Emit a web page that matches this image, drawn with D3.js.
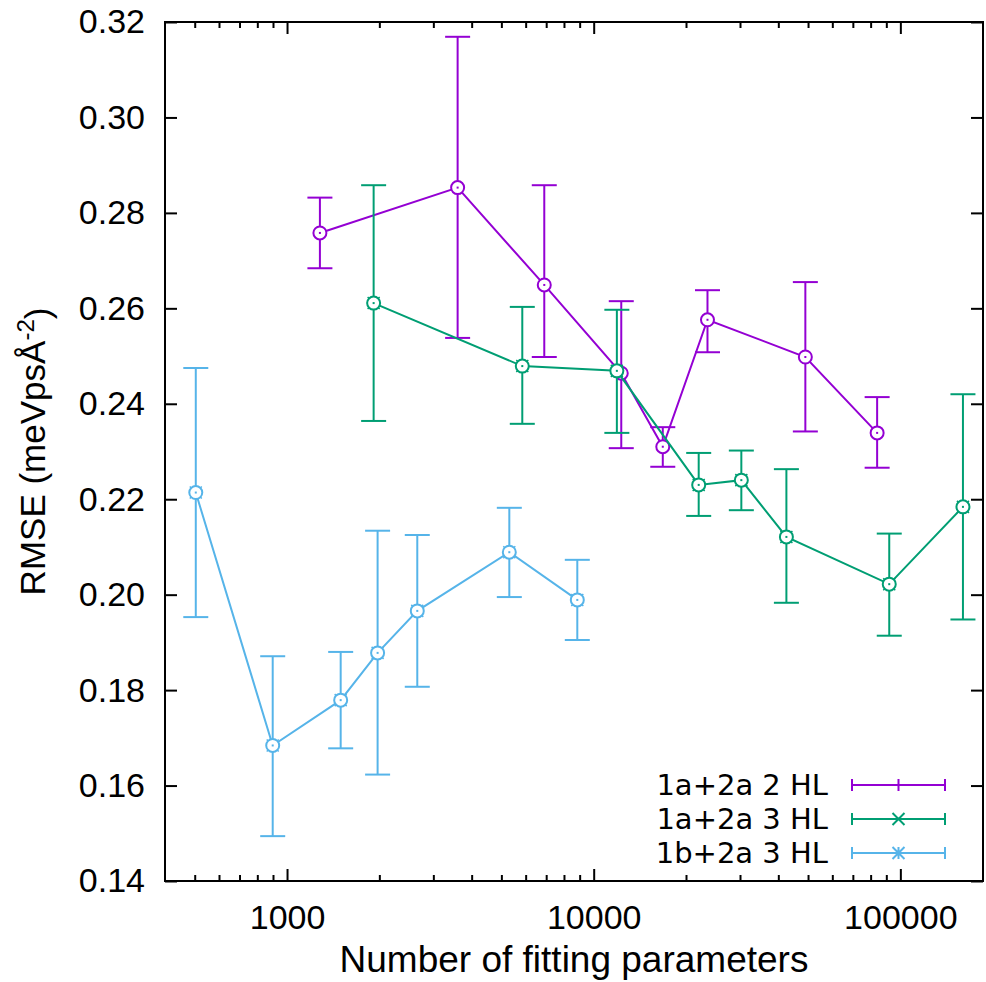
<!DOCTYPE html>
<html lang="en">

<head>
    <meta charset="UTF-8">
    <title>RMSE vs number of fitting parameters</title>
    <style>
        body { margin: 0; background: #fff; }
        text { font-family: "Liberation Sans", Arial, sans-serif; fill: #000; }
    </style>
</head>

<body>
    <script src="https://d3js.org/d3.v7.min.js"></script>
    <script>
        // 1a+2a 2 HL
        const xA = [1280, 3600, 6900, 12300, 16800, 23500, 49000, 84000];
        const yA = [0.2758, 0.2853, 0.2649, 0.2464, 0.2310, 0.2576, 0.2498, 0.2339];
        const loA = [0.2684, 0.2538, 0.2498, 0.2307, 0.2268, 0.2508, 0.2342, 0.2266];
        const hiA = [0.2832, 0.3169, 0.2858, 0.2615, 0.2351, 0.2638, 0.2655, 0.2414];

        // 1a+2a 3 HL
        const xB = [1916, 5850, 11900, 22000, 30300, 42500, 92000, 160000];
        const yB = [0.2611, 0.2479, 0.2469, 0.2230, 0.2240, 0.2121, 0.2022, 0.2184];
        const loB = [0.2364, 0.2358, 0.2339, 0.2165, 0.2177, 0.1983, 0.1914, 0.1948];
        const hiB = [0.2858, 0.2603, 0.2597, 0.2297, 0.2302, 0.2263, 0.2128, 0.2420];

        // 1b+2a 3 HL
        const xC = [504, 898, 1496, 1974, 2659, 5307, 8842];
        const yC = [0.2214, 0.1684, 0.1779, 0.1878, 0.1966, 0.2089, 0.1989];
        const loC = [0.1953, 0.1494, 0.1678, 0.1623, 0.1807, 0.1995, 0.1905];
        const hiC = [0.2475, 0.1871, 0.1880, 0.2134, 0.2125, 0.2182, 0.2073];

        const seriesNames = ['1a+2a 2 HL', '1a+2a 3 HL', '1b+2a 3 HL'];
        const seriesColors = ['#9400d3', '#009e73', '#56b4e9'];
        const seriesGlyphs = ['plus', 'cross', 'star'];

        const yTicks = [0.14, 0.16, 0.18, 0.20, 0.22, 0.24, 0.26, 0.28, 0.30, 0.32];
        const xMajor = [1000, 10000, 100000];
        const xDomain = [400, 186000];
        const yDomain = [0.14, 0.32];

        const W = 986, H = 982;
        const margin = { top: 22, right: 3, bottom: 101, left: 165 };
        const plotW = W - margin.left - margin.right;
        const plotH = H - margin.top - margin.bottom;

        const CAP = 12.5;
        const R = 6.5;

        const svg = d3.select('body').append('svg')
            .attr('width', W)
            .attr('height', H);

        const x = d3.scaleLog().domain(xDomain).range([0, plotW]);
        const y = d3.scaleLinear().domain(yDomain).range([plotH, 0]);

        const g = svg.append('g').attr('transform', `translate(${margin.left},${margin.top})`);

        // minor ticks 2..9 of each decade
        const xMinor = [];
        [100, 1000, 10000, 100000].forEach(d => {
            for (let k = 2; k <= 9; k++) {
                const v = d * k;
                if (v > xDomain[0] && v < xDomain[1]) xMinor.push(v);
            }
        });

        const styleAxis = sel => {
            sel.select('.domain').remove();
            sel.selectAll('line').attr('stroke', '#000').attr('stroke-width', 2);
        };

        // x axis, bottom
        g.append('g').attr('transform', `translate(0,${plotH})`)
            .call(d3.axisBottom(x).tickValues(xMinor).tickSize(-6).tickFormat(''))
            .call(styleAxis);
        g.append('g').attr('transform', `translate(0,${plotH})`)
            .call(d3.axisBottom(x).tickValues(xMajor).tickSize(-12).tickPadding(24).tickFormat(d3.format('d')))
            .call(styleAxis)
            .selectAll('text').style('font-size', '34px').attr('dy', '0.71em');

        // x axis, top mirror
        g.append('g')
            .call(d3.axisTop(x).tickValues(xMinor).tickSize(-6).tickFormat(''))
            .call(styleAxis);
        g.append('g')
            .call(d3.axisTop(x).tickValues(xMajor).tickSize(-12).tickFormat(''))
            .call(styleAxis);

        // y axis, left and right
        g.append('g')
            .call(d3.axisLeft(y).tickValues(yTicks).tickSize(-12).tickPadding(20).tickFormat(d3.format('.2f')))
            .call(styleAxis)
            .selectAll('text').style('font-size', '34px');
        g.append('g').attr('transform', `translate(${plotW},0)`)
            .call(d3.axisRight(y).tickValues(yTicks).tickSize(-12).tickFormat(''))
            .call(styleAxis);

        // frame
        g.append('rect')
            .attr('width', plotW).attr('height', plotH)
            .attr('fill', 'none').attr('stroke', '#000').attr('stroke-width', 2);

        const glyphPath = (type, s) => {
            if (type === 'plus') return `M${-s},0H${s}M0,${-s}V${s}`;
            if (type === 'cross') return `M${-s},${-s}L${s},${s}M${-s},${s}L${s},${-s}`;
            return `M${-s},0H${s}M0,${-s}V${s}M${-s},${-s}L${s},${s}M${-s},${s}L${s},${-s}`;
        };

        const allSeries = [
            { xs: xA, ys: yA, lo: loA, hi: hiA },
            { xs: xB, ys: yB, lo: loB, hi: hiB },
            { xs: xC, ys: yC, lo: loC, hi: hiC }
        ];

        const line = d3.line().x(d => x(d.x)).y(d => y(d.y));

        allSeries.forEach((s, si) => {
            const color = seriesColors[si];
            const pts = s.xs.map((v, i) => ({ x: v, y: s.ys[i], lo: s.lo[i], hi: s.hi[i] }));
            const sg = g.append('g');

            sg.append('path').datum(pts)
                .attr('d', line)
                .attr('fill', 'none').attr('stroke', color).attr('stroke-width', 2);

            const bars = sg.selectAll('.bar').data(pts).enter().append('g');
            bars.append('line')
                .attr('x1', d => x(d.x)).attr('x2', d => x(d.x))
                .attr('y1', d => y(d.lo)).attr('y2', d => y(d.hi));
            bars.append('line')
                .attr('x1', d => x(d.x) - CAP).attr('x2', d => x(d.x) + CAP)
                .attr('y1', d => y(d.lo)).attr('y2', d => y(d.lo));
            bars.append('line')
                .attr('x1', d => x(d.x) - CAP).attr('x2', d => x(d.x) + CAP)
                .attr('y1', d => y(d.hi)).attr('y2', d => y(d.hi));
            bars.selectAll('line').attr('stroke', color).attr('stroke-width', 2);

            const marks = sg.selectAll('.mark').data(pts).enter().append('g')
                .attr('transform', d => `translate(${x(d.x)},${y(d.y)})`);
            marks.append('path')
                .attr('d', glyphPath(seriesGlyphs[si], 6))
                .attr('stroke', color).attr('stroke-width', 1.5).attr('fill', 'none');
            marks.append('circle')
                .attr('r', R)
                .attr('fill', '#fff').attr('stroke', color).attr('stroke-width', 2);
            marks.append('rect')
                .attr('x', -1).attr('y', -1).attr('width', 2).attr('height', 2)
                .attr('fill', color);
        });

        // legend
        const legend = svg.append('g');
        const legendY = [785, 819, 853];
        seriesNames.forEach((name, i) => {
            const ly = legendY[i];
            const color = seriesColors[i];
            legend.append('text')
                .attr('x', 828).attr('y', ly).attr('dy', '0.36em')
                .attr('text-anchor', 'end')
                .style('font-family', '"DejaVu Sans", sans-serif')
                .style('font-size', '29px')
                .text(name);
            legend.append('path')
                .attr('d', `M852,${ly}H945M852,${ly - 6}V${ly + 6}M945,${ly - 6}V${ly + 6}`)
                .attr('stroke', color).attr('stroke-width', 2).attr('fill', 'none');
            legend.append('path')
                .attr('transform', `translate(898.5,${ly})`)
                .attr('d', glyphPath(seriesGlyphs[i], 6))
                .attr('stroke', color).attr('stroke-width', 2).attr('fill', 'none');
        });

        // axis titles
        svg.append('text')
            .attr('x', margin.left + plotW / 2).attr('y', 972)
            .attr('text-anchor', 'middle')
            .style('font-size', '37px')
            .text('Number of fitting parameters');

        const yt = svg.append('text')
            .attr('transform', `translate(45,${margin.top + plotH / 2}) rotate(-90)`)
            .attr('text-anchor', 'middle')
            .style('font-size', '35px');
        yt.append('tspan').text('RMSE (meVpsÅ');
        yt.append('tspan').attr('dy', '-0.45em').style('font-size', '24px').text('-2');
        yt.append('tspan').attr('dy', '0.45em').text(')');
    </script>
</body>

</html>
